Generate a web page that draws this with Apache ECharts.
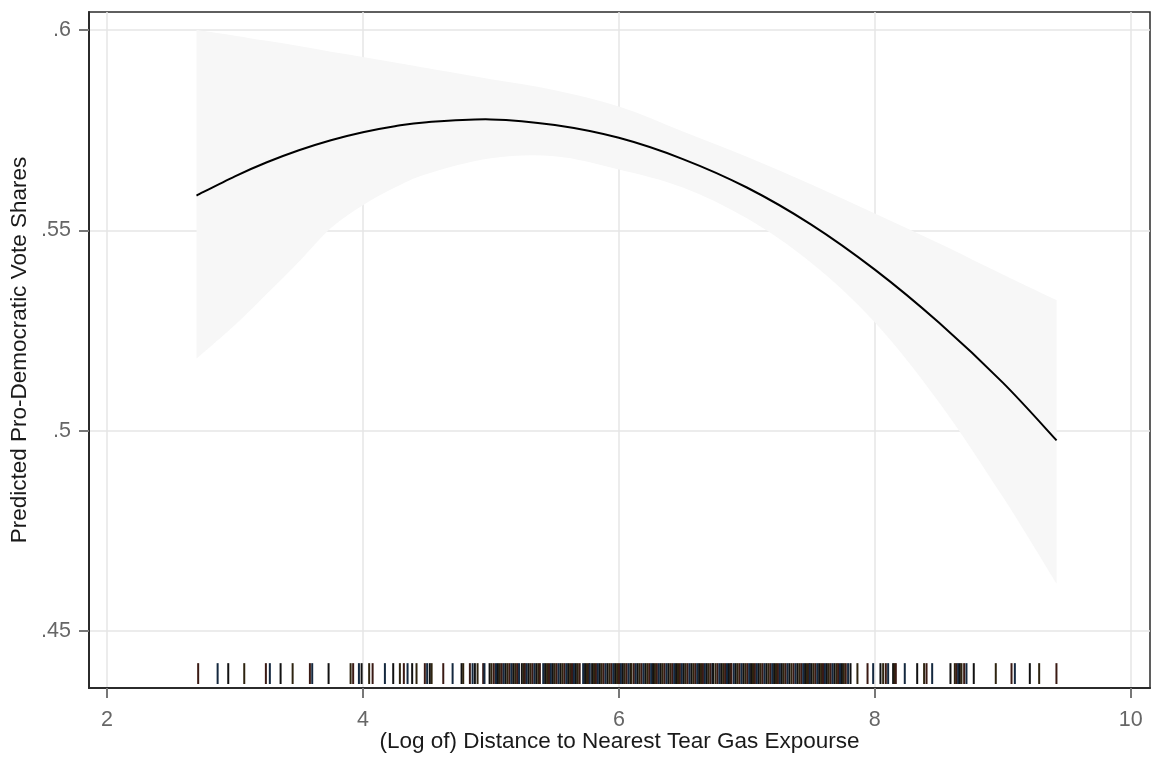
<!DOCTYPE html>
<html>
<head>
<meta charset="utf-8">
<script src="https://cdn.jsdelivr.net/npm/echarts@6/dist/echarts.min.js"></script>
<style>
html,body{margin:0;padding:0;background:#fff;}
#chart{width:1154px;height:758px;}
</style>
</head>
<body>
<div id="chart"></div>
<script>
// X positions (log distance) at which the fitted curve and CI are read
const xs = [2.70, 3.0, 3.25, 3.5, 3.75, 4.0, 4.25, 4.5, 5.0, 5.5, 6.0, 6.5, 7.0, 7.5, 8.0, 8.5, 9.0, 9.42];
// Predicted pro-democratic vote share
const fit = [0.5587, 0.5635, 0.5670, 0.5700, 0.5725, 0.5745, 0.5760, 0.5770, 0.5777, 0.5763, 0.5731, 0.5678, 0.5607, 0.5515, 0.5402, 0.5270, 0.5120, 0.4976];
// Confidence band
const upper = [0.6000, 0.5986, 0.5973, 0.5960, 0.5946, 0.5933, 0.5919, 0.5905, 0.5877, 0.5850, 0.5809, 0.5747, 0.5684, 0.5615, 0.5542, 0.5468, 0.5390, 0.5326];
const lower = [0.5180, 0.5264, 0.5342, 0.5422, 0.5506, 0.5563, 0.5607, 0.5641, 0.5680, 0.5685, 0.5652, 0.5607, 0.5530, 0.5420, 0.5271, 0.5072, 0.4835, 0.4618];
// Rug: observed log distances
const rug = [
 2.713, 2.865, 2.948, 3.073, 3.242, 3.273, 3.357, 3.451, 3.586, 3.604, 3.732, 3.904, 3.924, 3.969, 3.990,
 4.049, 4.076, 4.172, 4.237, 4.289, 4.320, 4.349, 4.385, 4.419, 4.484, 4.502, 4.523, 4.537, 4.628, 4.701,
 4.771, 4.784, 4.836, 4.857, 4.875, 4.896, 4.940, 4.950,
 4.990, 5.005, 5.023, 5.040, 5.055, 5.070, 5.085, 5.100, 5.115, 5.130, 5.145, 5.160, 5.175, 5.190, 5.205, 5.220,
 5.242, 5.256, 5.266, 5.280, 5.295, 5.310, 5.325, 5.340, 5.355, 5.370, 5.383,
 5.409, 5.424, 5.439, 5.454, 5.469, 5.484, 5.499, 5.514, 5.529, 5.544, 5.559, 5.574, 5.589, 5.604, 5.619,
 5.634, 5.649, 5.664, 5.679, 5.694,
 5.721, 5.736, 5.751, 5.766, 5.773,
 5.791, 5.806, 5.821, 5.836, 5.851, 5.866, 5.881, 5.896, 5.911, 5.926, 5.941, 5.956, 5.971, 5.986, 6.001,
 6.016, 6.031, 6.046, 6.061, 6.076, 6.091, 6.099,
 6.117, 6.132, 6.147, 6.162, 6.177, 6.192, 6.207, 6.222, 6.237, 6.252, 6.267, 6.282, 6.297, 6.312, 6.327,
 6.342, 6.357, 6.372, 6.387, 6.402, 6.417, 6.432, 6.447, 6.462, 6.477, 6.492, 6.507, 6.522, 6.537, 6.552,
 6.567, 6.582, 6.597, 6.612, 6.627, 6.642, 6.657, 6.672, 6.687, 6.702, 6.717, 6.732, 6.737,
 6.755, 6.770, 6.785, 6.800, 6.815, 6.830, 6.845, 6.860, 6.875, 6.880,
 6.898, 6.913, 6.928, 6.943, 6.958, 6.973, 6.988, 7.003, 7.018, 7.033, 7.048, 7.063, 7.078, 7.093, 7.108,
 7.123, 7.138, 7.153, 7.168, 7.183, 7.198, 7.213, 7.228, 7.243, 7.258, 7.273, 7.288, 7.303, 7.318, 7.333, 7.349,
 7.365, 7.380, 7.395, 7.410, 7.425, 7.440, 7.455, 7.470, 7.485, 7.492,
 7.505, 7.520, 7.535, 7.550, 7.565, 7.580, 7.595, 7.610, 7.625, 7.640, 7.655, 7.670, 7.685, 7.700,
 7.713, 7.728, 7.743, 7.758, 7.773, 7.791,
 7.810, 7.864, 7.943, 7.987, 8.044, 8.065, 8.086, 8.104, 8.143, 8.154, 8.164, 8.234, 8.331, 8.385, 8.404,
 8.448, 8.591, 8.625, 8.638, 8.651, 8.664, 8.677, 8.698, 8.716, 8.773, 8.945, 9.068, 9.094, 9.211, 9.284, 9.419
];
const xTicks = [2, 4, 6, 8, 10];
const yTicks = [0.45, 0.5, 0.55, 0.6];
const rugRange = [0.4368, 0.4420];

const rugColors = ['#3a1a14', '#14283f', '#111111', '#2e2410'];

// Smooth path (Catmull-Rom -> cubic Bezier) through already-projected pixel points
function smoothSegs(pts) {
  let d = '';
  for (let i = 0; i < pts.length - 1; i++) {
    const p0 = pts[Math.max(i - 1, 0)], p1 = pts[i], p2 = pts[i + 1], p3 = pts[Math.min(i + 2, pts.length - 1)];
    const c1 = [p1[0] + (p2[0] - p0[0]) / 6, p1[1] + (p2[1] - p0[1]) / 6];
    const c2 = [p2[0] - (p3[0] - p1[0]) / 6, p2[1] - (p3[1] - p1[1]) / 6];
    d += ' C' + c1[0] + ' ' + c1[1] + ' ' + c2[0] + ' ' + c2[1] + ' ' + p2[0] + ' ' + p2[1];
  }
  return d;
}

const chart = echarts.init(document.getElementById('chart'), null, {renderer: 'canvas'});
const fontFam = '"Liberation Sans", Arial, sans-serif';

const option = {
  animation: false,
  backgroundColor: '#fff',
  grid: {
    left: 89, right: 4, top: 12, bottom: 70,
    containLabel: false, outerBoundsMode: 'none',
    show: true, borderColor: '#2b2b2b', borderWidth: 1.5, backgroundColor: 'transparent'
  },
  xAxis: {
    type: 'value', min: 1.86, max: 10.15,
    name: '(Log of) Distance to Nearest Tear Gas Expourse',
    nameLocation: 'middle', nameGap: 42, nameMoveOverlap: false,
    nameTextStyle: {color: '#1a1a1a', fontSize: 22.5, fontFamily: fontFam},
    axisLine: {show: true, onZero: false, lineStyle: {color: '#2b2b2b', width: 2}},
    axisTick: {show: true, customValues: xTicks, length: 10, lineStyle: {color: '#777', width: 2}},
    axisLabel: {customValues: xTicks, color: '#666', fontSize: 21.5, fontFamily: fontFam, margin: 21},
    splitLine: {show: true, lineStyle: {color: '#e6e6e6', width: 1.5}}
  },
  yAxis: {
    type: 'value', min: 0.4358, max: 0.6045,
    name: 'Predicted Pro-Democratic Vote Shares',
    nameLocation: 'middle', nameGap: 58, nameRotate: 90, nameMoveOverlap: false,
    nameTextStyle: {color: '#1a1a1a', fontSize: 22.5, fontFamily: fontFam},
    axisLine: {show: true, onZero: false, lineStyle: {color: '#2b2b2b', width: 2}},
    axisTick: {show: true, customValues: yTicks, length: 10, lineStyle: {color: '#777', width: 2}},
    axisLabel: {
      customValues: yTicks, color: '#666', fontSize: 21.5, fontFamily: fontFam, margin: 18,
      formatter: v => String(+(+v).toFixed(2)).replace(/^0/, '')
    },
    splitLine: {show: true, lineStyle: {color: '#e6e6e6', width: 1.5}}
  },
  series: [
    {
      type: 'custom', name: 'band', silent: true, z: 1,
      data: [[xs[0]]],
      renderItem: function (params, api) {
        const up = xs.map((x, i) => api.coord([x, upper[i]]));
        const lo = xs.map((x, i) => api.coord([x, lower[i]])).reverse();
        let d = 'M' + up[0][0] + ' ' + up[0][1] + smoothSegs(up);
        d += ' L' + lo[0][0] + ' ' + lo[0][1] + smoothSegs(lo) + ' Z';
        return {
          type: 'path',
          shape: {pathData: d},
          style: {fill: '#f7f7f7', stroke: null}
        };
      }
    },
    {
      type: 'custom', name: 'fit', silent: true, z: 5,
      data: [[xs[0]]],
      renderItem: function (params, api) {
        const pts = xs.map((x, i) => api.coord([x, fit[i]]));
        const d = 'M' + pts[0][0] + ' ' + pts[0][1] + smoothSegs(pts);
        return {
          type: 'path',
          shape: {pathData: d},
          style: {fill: null, stroke: '#000', lineWidth: 2}
        };
      }
    },
    {
      type: 'custom', name: 'rug', silent: true, z: 6,
      data: rug.map(x => [x]),
      renderItem: function (params, api) {
        const x = api.value(0);
        const p0 = api.coord([x, rugRange[0]]);
        const p1 = api.coord([x, rugRange[1]]);
        return {
          type: 'line',
          shape: {x1: p0[0], y1: p0[1], x2: p1[0], y2: p1[1]},
          style: {stroke: rugColors[params.dataIndex % rugColors.length], lineWidth: 2}
        };
      }
    }
  ]
};
chart.setOption(option);
</script>
</body>
</html>
